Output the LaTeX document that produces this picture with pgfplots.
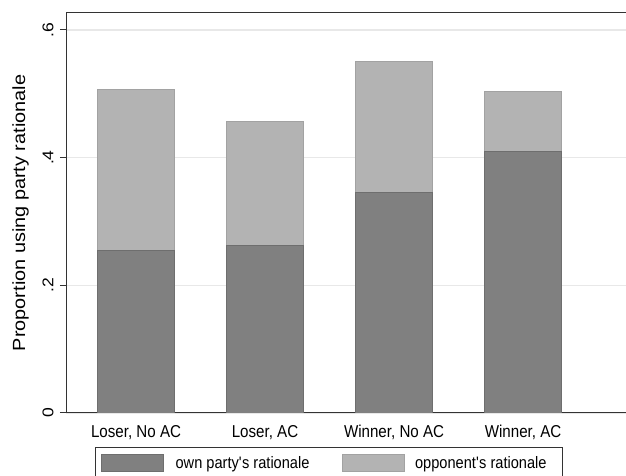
\documentclass[border=0pt]{standalone}
\usepackage{fontspec}
\setmainfont{Liberation Sans}[FakeStretch=0.88]
\newfontfamily\vfont{Liberation Sans}[FakeStretch=1.13]
\usepackage{pgfplots}
\pgfplotsset{compat=1.18}

\definecolor{ownfill}{HTML}{808080}
\definecolor{owndraw}{HTML}{6E6E6E}
\definecolor{oppfill}{HTML}{B3B3B3}
\definecolor{oppdraw}{HTML}{A2A2A2}
\definecolor{gridgray}{HTML}{E8E8E8}
\definecolor{axisgray}{HTML}{333333}

\newcommand{\ticksfont}{\fontsize{17.2bp}{20bp}\selectfont}
\newcommand{\legfont}{\fontsize{16.6bp}{20bp}\selectfont}
\newcommand{\ylabfont}{\vfont\fontsize{17.6bp}{20bp}\selectfont}
\newcommand{\ytickfont}{\vfont\fontsize{15.5bp}{18bp}\selectfont}

\begin{document}
\begin{tikzpicture}
\begin{axis}[
  scale only axis,
  width=560bp, height=400bp,
  ybar stacked,
  bar width=77bp,
  xmin=-0.543, xmax=3.798,
  ymin=0, ymax=0.6265,
  xtick={0,1,2,3},
  xticklabels={{Loser, No AC},{Loser, AC},{Winner, No AC},{Winner, AC}},
  xtick style={draw=none},
  xticklabel style={font=\ticksfont, anchor=north},
  xticklabel shift=3bp,
  ytick={0,0.2,0.4,0.6},
  yticklabels={0,.2,.4,.6},
  ytick pos=left,
  tick align=outside,
  major tick length=6bp,
  ytick style={axisgray, line width=1bp},
  yticklabel style={font=\ytickfont, rotate=90, anchor=south},
  yticklabel shift=3bp,
  ymajorgrids,
  grid style={gridgray, line width=1.5bp},
  axis line style={draw=none},
  ylabel={Proportion using party rationale},
  ylabel style={font=\ylabfont, at={(axis description cs:-0.0810,0.5)}, anchor=center},
  legend columns=2,
  legend cell align=left,
  legend style={
    at={(axis description cs:0.0518,-0.0843)}, anchor=north west,
    draw=axisgray, line width=1bp,
    inner xsep=5bp, inner ysep=7bp,
    font=\legfont,
    nodes={inner xsep=0pt, inner ysep=1bp},
  },
]
% lower segment: share giving their own party's rationale
\addplot+[fill=ownfill, draw=owndraw, line width=0.8bp,
  legend image code/.code={\fill[ownfill,draw=owndraw] (0bp,-8.6bp) rectangle (62bp,8.6bp); \path (74.3bp,0bp);}]
  coordinates {(0,0.254) (1,0.262) (2,0.345) (3,0.409)};
% upper segment: share giving the opponent's rationale
\addplot+[fill=oppfill, draw=oppdraw, line width=0.8bp,
  legend image code/.code={\fill[oppfill,draw=oppdraw] (0bp,-8.6bp) rectangle (62bp,8.6bp); \path (72bp,0bp);}]
  coordinates {(0,0.253) (1,0.194) (2,0.206) (3,0.095)};
\legend{\makebox[166.7bp][l]{own party\textquotesingle s rationale}, \makebox[142.3bp][l]{opponent\textquotesingle s rationale}}
% frame: top, left and bottom edges
\draw[axisgray, line width=1bp] (rel axis cs:1,1) -- (rel axis cs:0,1) -- (rel axis cs:0,0) -- (rel axis cs:1,0);
\end{axis}
\pgfresetboundingbox
\useasboundingbox ([xshift=-66bp,yshift=-63bp]current axis.south west) rectangle ([yshift=13bp]current axis.north east);
\end{tikzpicture}
\end{document}
